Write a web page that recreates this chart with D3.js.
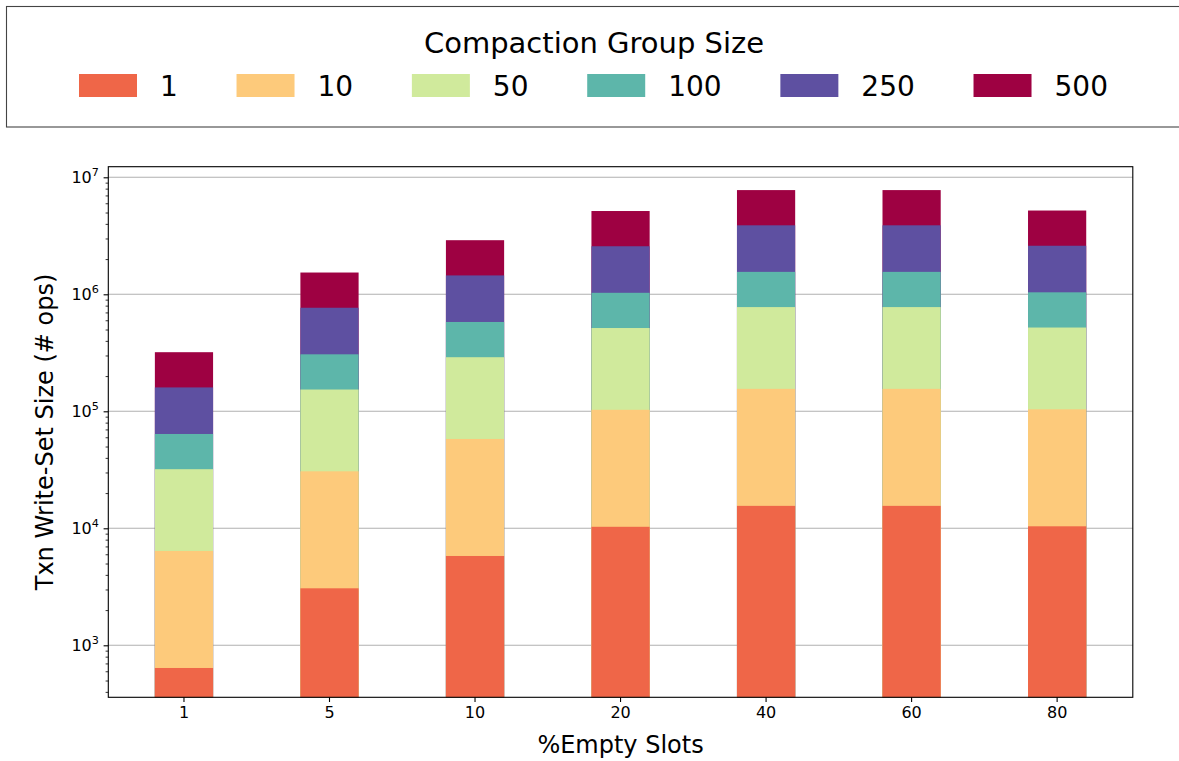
<!DOCTYPE html>
<html>
<head>
<meta charset="utf-8">
<script src="https://cdn.jsdelivr.net/npm/d3@7"></script>
<style>
  html, body { margin: 0; padding: 0; background: #fff; }
  svg { display: block; font-family: "DejaVu Sans", sans-serif; }
</style>
</head>
<body>
<svg id="chart" width="1179" height="761"></svg>
<script>
// %Empty slots on the x axis
const categories = ["1", "5", "10", "20", "40", "60", "80"];

// Txn write-set size (# ops) per compaction group size
const groupSizes = ["1", "10", "50", "100", "250", "500"];
const size1   = [640, 3070, 5800, 10300, 15550, 15550, 10400];
const size10  = [6400, 30700, 58000, 103000, 155500, 155500, 104000];
const size50  = [32000, 153500, 290000, 515000, 777500, 777500, 520000];
const size100 = [64000, 307000, 580000, 1030000, 1555000, 1555000, 1040000];
const size250 = [160000, 767500, 1450000, 2575000, 3887500, 3887500, 2600000];
const size500 = [320000, 1535000, 2900000, 5150000, 7775000, 7775000, 5200000];
const seriesValues = [size1, size10, size50, size100, size250, size500];

const yDomain = [359.4, 1.232e7];
const yMajorTicks = [1e3, 1e4, 1e5, 1e6, 1e7];

const colors = ["#ef6648", "#fdca7b", "#d0ea9c", "#5db6aa", "#5e50a1", "#9e0142"];

const svg = d3.select("#chart");
const plot = { left: 108.3, right: 1132.8, top: 166.7, bottom: 697.3 };

const x = d3.scaleBand()
  .domain(categories)
  .range([plot.left, plot.right])
  .paddingInner(0.6)
  .paddingOuter(0.32);

const y = d3.scaleLog()
  .domain(yDomain)
  .range([plot.bottom, plot.top]);

// horizontal grid on major decades (behind bars)
svg.append("g")
  .selectAll("line")
  .data(yMajorTicks)
  .join("line")
  .attr("x1", plot.left).attr("x2", plot.right)
  .attr("y1", d => y(d)).attr("y2", d => y(d))
  .attr("stroke", "#b0b0b0")
  .attr("stroke-width", 1.1);

// overlapping bars, tallest series drawn first
const barsG = svg.append("g");
for (let s = seriesValues.length - 1; s >= 0; s--) {
  barsG.append("g")
    .attr("fill", colors[s])
    .selectAll("rect")
    .data(seriesValues[s])
    .join("rect")
    .attr("x", (d, i) => x(categories[i]))
    .attr("width", x.bandwidth())
    .attr("y", d => y(d))
    .attr("height", d => y(yDomain[0]) - y(d));
}

// frame
svg.append("rect")
  .attr("x", plot.left).attr("y", plot.top)
  .attr("width", plot.right - plot.left)
  .attr("height", plot.bottom - plot.top)
  .attr("fill", "none")
  .attr("stroke", "#000")
  .attr("stroke-width", 1.1);

// y axis: major and minor ticks
const minorTicks = [];
for (let e = 2; e <= 7; e++) {
  for (let m = 1; m <= 9; m++) {
    const v = m * Math.pow(10, e);
    if (m !== 1 && v >= yDomain[0] && v <= yDomain[1]) minorTicks.push(v);
  }
}
const yAxisG = svg.append("g").attr("transform", `translate(${plot.left},0)`);
yAxisG.append("g")
  .call(d3.axisLeft(y).tickValues(minorTicks).tickSize(2.7).tickFormat(""))
  .call(g => g.select(".domain").remove())
  .call(g => g.selectAll("line").attr("stroke", "#000").attr("stroke-width", 0.8));
yAxisG.append("g")
  .call(d3.axisLeft(y).tickValues(yMajorTicks).tickSize(4.7).tickPadding(4.7).tickFormat(""))
  .call(g => g.select(".domain").remove())
  .call(g => g.selectAll("line").attr("stroke", "#000").attr("stroke-width", 1.1));

// y tick labels as 10 with superscript exponent
const yLabels = svg.append("g");
yMajorTicks.forEach(v => {
  const t = yLabels.append("text")
    .attr("x", plot.left - 9.4)
    .attr("y", y(v) + 6)
    .attr("text-anchor", "end")
    .attr("font-size", 16)
    .attr("fill", "#000");
  t.append("tspan").text("10");
  t.append("tspan")
    .attr("dy", -7)
    .attr("font-size", 11.2)
    .text(String(Math.round(Math.log10(v))));
});

// x axis ticks and labels
const xAxisG = svg.append("g").attr("transform", `translate(0,${plot.bottom})`);
xAxisG.call(d3.axisBottom(x).tickSize(4.7).tickPadding(4.7))
  .call(g => g.select(".domain").remove())
  .call(g => g.selectAll("line").attr("stroke", "#000").attr("stroke-width", 1.1))
  .call(g => g.selectAll("text")
    .attr("font-size", 16)
    .attr("font-family", "DejaVu Sans")
    .attr("fill", "#000"));

// axis titles
svg.append("text")
  .attr("x", (plot.left + plot.right) / 2)
  .attr("y", 753)
  .attr("text-anchor", "middle")
  .attr("font-size", 24)
  .text("%Empty Slots");

svg.append("text")
  .attr("transform", `translate(53,${(plot.top + plot.bottom) / 2}) rotate(-90)`)
  .attr("text-anchor", "middle")
  .attr("font-size", 24)
  .text("Txn Write-Set Size (# ops)");

// legend
const legend = svg.append("g");
legend.append("rect")
  .attr("x", 6.5).attr("y", 6.5)
  .attr("width", 1190).attr("height", 120.5)
  .attr("fill", "#fff")
  .attr("stroke", "#444")
  .attr("stroke-width", 1.1);

legend.append("text")
  .attr("x", 594)
  .attr("y", 53)
  .attr("text-anchor", "middle")
  .attr("font-size", 29)
  .text("Compaction Group Size");

const patchW = 58, patchH = 23, labelGap = 23, colGap = 58.7;
let cursor = 79;
groupSizes.forEach((g, i) => {
  legend.append("rect")
    .attr("x", cursor).attr("y", 74)
    .attr("width", patchW).attr("height", patchH)
    .attr("fill", colors[i]);
  const t = legend.append("text")
    .attr("x", cursor + patchW + labelGap)
    .attr("y", 95.5)
    .attr("font-size", 28)
    .text(g);
  cursor = cursor + patchW + labelGap + t.node().getComputedTextLength() + colGap;
});
</script>
</body>
</html>
